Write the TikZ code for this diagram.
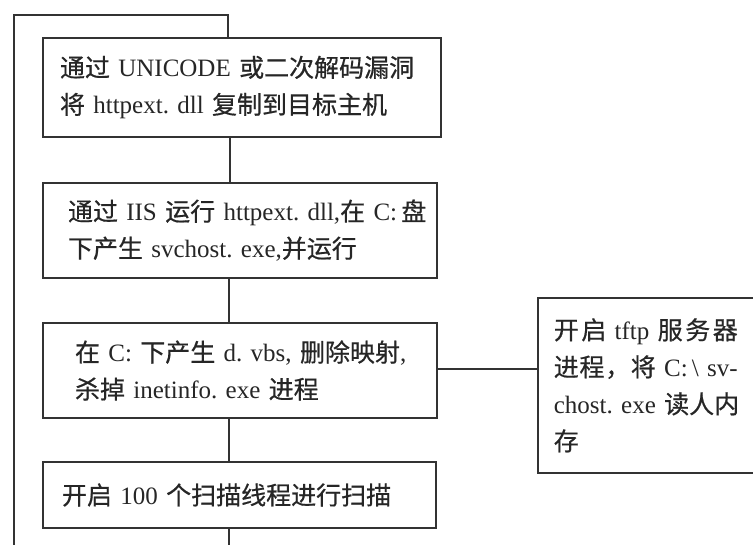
\documentclass[tikz,border=0pt]{standalone}
\usepackage{fontspec}
\setmainfont{Liberation Serif}
\newfontfamily\cjkfont[FakeBold=0.6]{Noto Sans CJK SC}
\newcommand{\zh}[1]{{\cjkfont #1}}
\newcommand{\jline}[1]{\makebox[184pt][s]{#1}}
\begin{document}
\begin{tikzpicture}[x=1pt,y=-1pt,
  every node/.style={font=\fontsize{25pt}{37pt}\selectfont\frenchspacing, text=black!85},
  stepbox/.style={draw=black!80, line width=1.6pt, rectangle, align=left, inner ysep=0pt},
  link/.style={draw=black!80, line width=1.6pt}]
\useasboundingbox (0,0) rectangle (753,545);
\clip (0,0) rectangle (753,545);

\node[stepbox, minimum width=398pt, minimum height=99pt, inner xsep=17pt, text width=364pt] (b1) at (242,87.5)
  {\mbox{\zh{通过} UNICODE \zh{或二次解码漏洞}}\\\mbox{\zh{将} httpext. dll \zh{复制到目标主机}}};
\node[stepbox, minimum width=394pt, minimum height=95pt, inner xsep=25pt, text width=344pt] (b2) at (240,230.5)
  {\mbox{\zh{通过} IIS \zh{运行} httpext. dll,\zh{在} C:\,\zh{盘}}\\\mbox{\zh{下产生} svchost. exe,\zh{并运行}}};
\node[stepbox, minimum width=394pt, minimum height=95pt, inner xsep=32pt, text width=330pt] (b3) at (240,370.5)
  {\mbox{\zh{在} C: \zh{下产生} d. vbs, \zh{删除映射},}\\\mbox{\zh{杀掉} inetinfo. exe \zh{进程}}};
\node[stepbox, minimum width=393pt, minimum height=66pt, inner xsep=19pt, text width=355pt] (b4) at (239.5,495)
  {\mbox{\zh{开启} 100 \zh{个扫描线程进行扫描}}};
\node[stepbox, minimum width=236pt, minimum height=175pt, inner xsep=16pt, text width=204pt, anchor=north west] (b5) at (537,297)
  {\jline{\zh{开}\hfil\zh{启} tftp \zh{服}\hfil\zh{务}\hfil\zh{器}}\\
   \jline{\zh{进}\hfil\zh{程}\hfil\zh{，}\hfil\zh{将} C:\,\textbackslash{} sv-}\\
   \jline{chost. exe \zh{读}\hfil\zh{人}\hfil\zh{内}}\\
   \zh{存}};

\coordinate (looptop) at (228,15);
\coordinate (loopleft) at (14,15);
\coordinate (loopbottom) at (14,545);
\coordinate (downend) at (229,545);

\draw[link] (b1.north -| looptop) -- (looptop) -- (loopleft) -- (loopbottom);
\draw[link] (b1.south -| 230,0) -- (b2.north -| 230,0);
\draw[link] (b2.south -| 229,0) -- (b3.north -| 229,0);
\draw[link] (b3.south -| 229,0) -- (b4.north -| 229,0);
\draw[link] (b4.south -| downend) -- (downend);
\draw[link] (b3.east |- 0,369) -- (b5.west |- 0,369);
\end{tikzpicture}
\end{document}
